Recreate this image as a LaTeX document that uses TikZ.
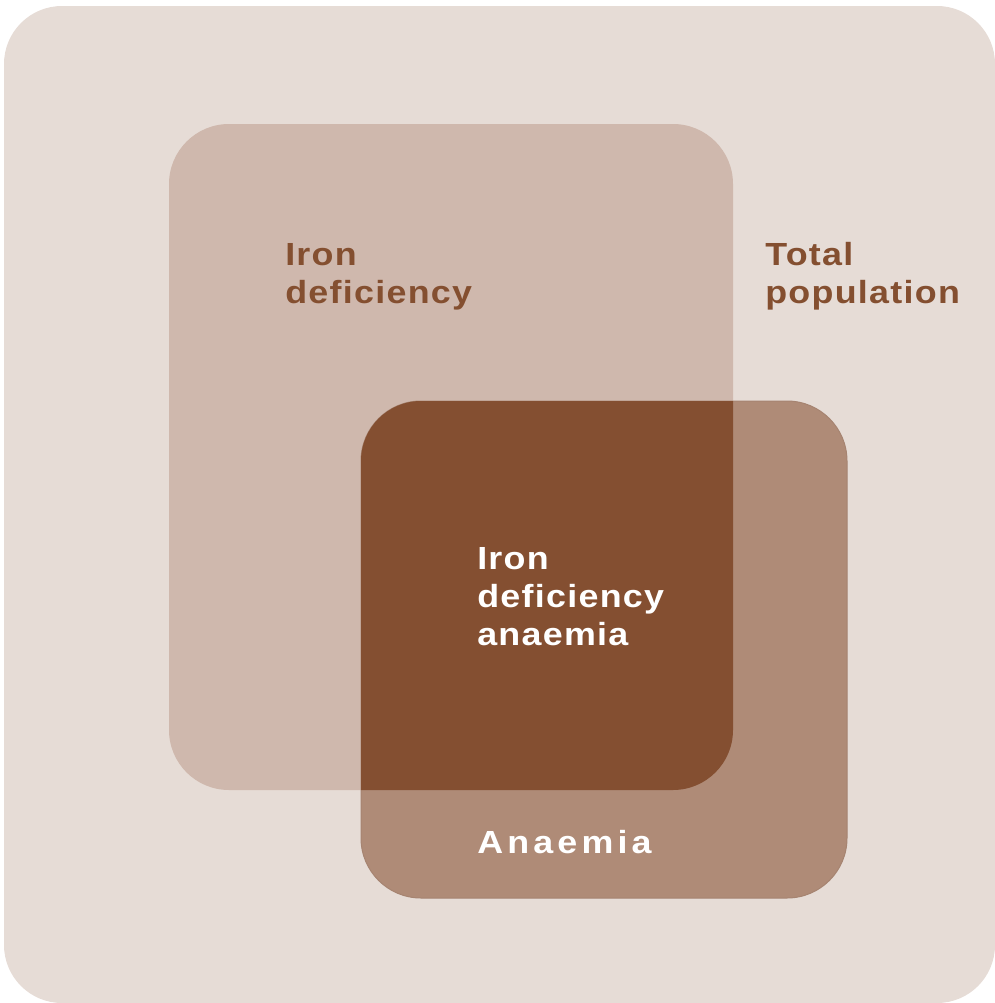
\documentclass[tikz,border=0pt]{standalone}
\usepackage{fontspec}
\setmainfont{Liberation Sans}
\newfontfamily\lblfont{Liberation Sans}[FakeStretch=1.12,LetterSpace=4]
\newfontfamily\widefont{Liberation Sans}[FakeStretch=1.12,LetterSpace=13]
\definecolor{popbg}{HTML}{E6DCD6}
\definecolor{ironbg}{HTML}{CFB8AD}
\definecolor{anaembg}{HTML}{AF8B77}
\definecolor{idabg}{HTML}{844F31}
\definecolor{lblbrown}{HTML}{844F30}

\begin{document}
\begin{tikzpicture}[x=0.75pt,y=0.75pt,yscale=-1,xscale=1,
  lbl/.style={inner sep=0pt,align=left,font=\lblfont\bfseries\fontsize{24}{28.5}\selectfont}]
\useasboundingbox (0,0) rectangle (995,1003);
% Sets
\fill[popbg, rounded corners=43.5pt] (4,6) rectangle (995,1003);
\fill[ironbg, rounded corners=45pt] (169,124) rectangle (733,790);
\draw[anaembg!95!black, line width=0.75pt, fill=anaembg, rounded corners=45pt] (361,401) rectangle (847,898);
\begin{scope}
\clip[rounded corners=45pt] (169,124) rectangle (733,790);
\fill[idabg, rounded corners=45pt] (361,401) rectangle (847,898);
\end{scope}
% Text Node
\draw (285,243) node (irontext) [anchor=north west] [lbl, text=lblbrown]    {Iron\\deficiency};
% Text Node
\draw (765,242) node (poptext) [anchor=north west] [lbl, text=lblbrown]    {Total\\population};
% Text Node
\draw (477,547) node (idatext) [anchor=north west] [lbl, text=white]    {Iron\\deficiency\\anaemia};
% Text Node
\draw (477,830) node (anaemtext) [anchor=north west] [lbl, text=white, font=\widefont\bfseries\fontsize{24}{28.5}\selectfont]    {Anaemia};
\end{tikzpicture}
\end{document}
